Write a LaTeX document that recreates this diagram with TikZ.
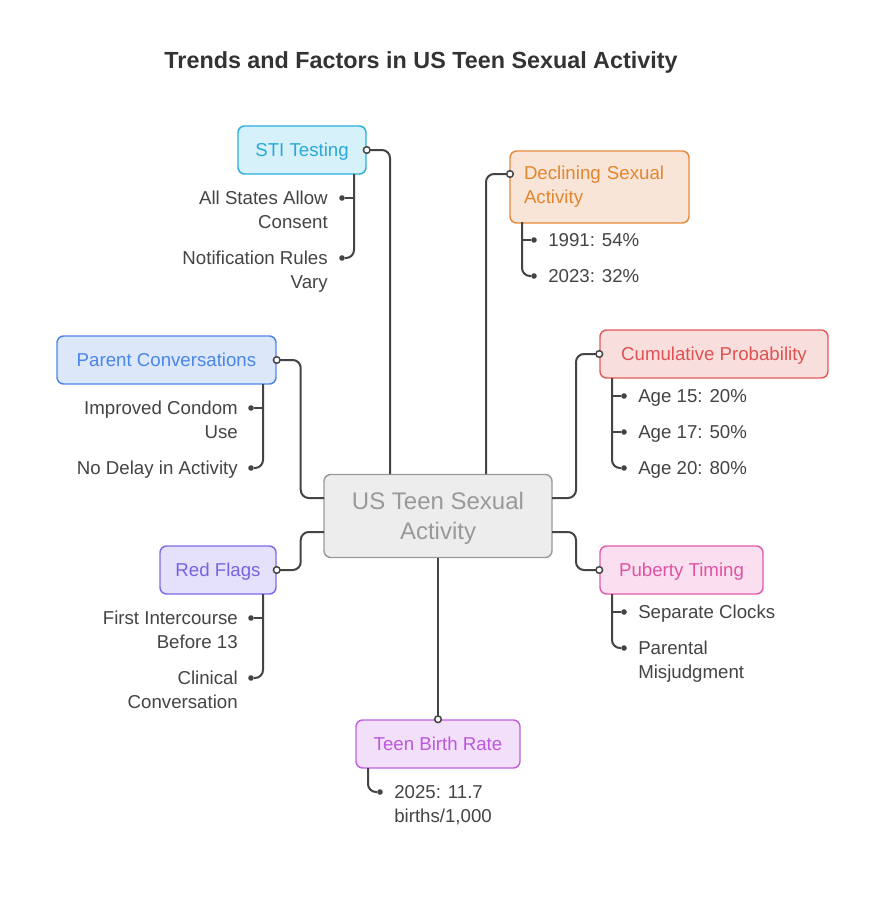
\documentclass[tikz,border=0pt]{standalone}
\usepackage{fontspec}
\setmainfont{Liberation Sans}
\definecolor{stif}{HTML}{D6F1FA}\definecolor{stid}{HTML}{2BB0DE}\definecolor{stit}{HTML}{2AA9D9}
\definecolor{decf}{HTML}{F8E5D8}\definecolor{decd}{HTML}{E68A3C}\definecolor{dect}{HTML}{E2862F}
\definecolor{parf}{HTML}{DCE7F9}\definecolor{pard}{HTML}{4D88E8}\definecolor{part}{HTML}{4A86E8}
\definecolor{cumf}{HTML}{F9DEDE}\definecolor{cumd}{HTML}{E35B5B}\definecolor{cumt}{HTML}{E05252}
\definecolor{redf}{HTML}{E6E1FB}\definecolor{redd}{HTML}{7F6BE8}\definecolor{redt}{HTML}{7963E0}
\definecolor{pubf}{HTML}{F9DFEF}\definecolor{pubd}{HTML}{E45AAE}\definecolor{pubt}{HTML}{E052A3}
\definecolor{teenf}{HTML}{F2DFF9}\definecolor{teend}{HTML}{C261E2}\definecolor{teent}{HTML}{BD58DD}
\definecolor{cfill}{HTML}{EDEDED}\definecolor{cdraw}{HTML}{9A9A9A}\definecolor{ctext}{HTML}{999999}
\definecolor{linec}{HTML}{444444}\definecolor{leafc}{HTML}{444444}\definecolor{titlec}{HTML}{333333}
\begin{document}
\begin{tikzpicture}[x=0.75pt,y=-0.75pt,
  conn/.style={draw=linec, line width=1.5pt, rounded corners=6pt},
  boxbase/.style={draw, line width=1.1pt, rounded corners=5pt, inner sep=0pt, align=center, font=\fontsize{14}{18}\selectfont},
  box/.style={boxbase, text depth=0pt},
  leaf/.style={text=leafc, inner sep=0pt, text depth=0pt, font=\fontsize{14}{18}\selectfont},
  dotn/.style={circle, fill=linec, inner sep=0pt, minimum size=4.2pt},
  ring/.style={circle, draw=linec, fill=white, line width=1.1pt, inner sep=0pt, minimum size=5pt}]
\useasboundingbox[fill=white] (0,0) rectangle (876,906);

\node[text=titlec, font=\fontsize{17.5}{21}\selectfont\bfseries] (title) at (421,62) {Trends and Factors in US Teen Sexual Activity};

% central node
\node[box, fill=cfill, draw=cdraw, text=ctext, minimum width=171pt, minimum height=62.25pt, font=\fontsize{18}{22.5}\selectfont] (core) at (438,516) {US Teen Sexual\\Activity};
\coordinate (ct1) at (390,474);
\coordinate (ct2) at (486,474);
\coordinate (cl1) at (324,498);
\coordinate (cl2) at (324,532);
\coordinate (cr1) at (552,498);
\coordinate (cr2) at (552,532);

% STI Testing
\node[box, fill=stif, draw=stid, text=stit, minimum width=96pt, minimum height=36pt] (sti) at (302,150) {STI Testing};
\draw[conn] (sti.east) -| (ct1);
\coordinate (stib) at (354,174);
\node[dotn] (sti1) at (342,198) {};
\node[dotn] (sti2) at (342,258) {};
\draw[conn] (stib) |- (sti2);
\draw[conn] (stib |- sti1) -- (sti1);
\node[leaf, anchor=east, align=right] (lsti1) at (328,210) {All States Allow\\Consent};
\node[leaf, anchor=east, align=right] (lsti2) at (328,270) {Notification Rules\\Vary};

% Declining Sexual Activity
\node[boxbase, fill=decf, draw=decd, text=dect, minimum width=134.25pt, minimum height=54pt, text width=113.25pt, align=left] (dec) at (599.5,187) {Declining Sexual\\Activity};
\coordinate (decin) at (510,174);
\draw[conn] (decin) -| (ct2);
\coordinate (decb) at (522,222);
\node[dotn] (dec1) at (534,240) {};
\node[dotn] (dec2) at (534,276) {};
\draw[conn] (decb) |- (dec2);
\draw[conn] (decb |- dec1) -- (dec1);
\node[leaf, anchor=west] (ldec1) at (548,240) {1991: 54\%};
\node[leaf, anchor=west] (ldec2) at (548,276) {2023: 32\%};

% Parent Conversations
\node[box, fill=parf, draw=pard, text=part, minimum width=164.25pt, minimum height=36pt] (par) at (166.5,360) {Parent Conversations};
\draw[conn] (par.east) -- ++(24,0) |- (cl1);
\coordinate (parb) at (263,384);
\node[dotn] (par1) at (251,408) {};
\node[dotn] (par2) at (251,468) {};
\draw[conn] (parb) |- (par2);
\draw[conn] (parb |- par1) -- (par1);
\node[leaf, anchor=east, align=right] (lpar1) at (238,420) {Improved Condom\\Use};
\node[leaf, anchor=east, align=right] (lpar2) at (238,468) {No Delay in Activity};

% Cumulative Probability
\node[box, fill=cumf, draw=cumd, text=cumt, minimum width=171pt, minimum height=36pt] (cum) at (714,354) {Cumulative Probability};
\draw[conn] (cr1) -- ++(24,0) |- (cum.west);
\coordinate (cumb) at (612,378);
\node[dotn] (cum1) at (624,396) {};
\node[dotn] (cum2) at (624,432) {};
\node[dotn] (cum3) at (624,468) {};
\draw[conn] (cumb) |- (cum3);
\draw[conn] (cumb |- cum1) -- (cum1);
\draw[conn] (cumb |- cum2) -- (cum2);
\node[leaf, anchor=west] (lcum1) at (638,396) {Age 15: 20\%};
\node[leaf, anchor=west] (lcum2) at (638,432) {Age 17: 50\%};
\node[leaf, anchor=west] (lcum3) at (638,468) {Age 20: 80\%};

% Red Flags
\node[box, fill=redf, draw=redd, text=redt, minimum width=87pt, minimum height=36pt] (red) at (218,570) {Red Flags};
\draw[conn] (red.east) -- ++(24,0) |- (cl2);
\coordinate (redb) at (263,594);
\node[dotn] (red1) at (251,618) {};
\node[dotn] (red2) at (251,678) {};
\draw[conn] (redb) |- (red2);
\draw[conn] (redb |- red1) -- (red1);
\node[leaf, anchor=east, align=right] (lred1) at (238,630) {First Intercourse\\Before 13};
\node[leaf, anchor=east, align=right] (lred2) at (238,690) {Clinical\\Conversation};

% Puberty Timing
\node[box, fill=pubf, draw=pubd, text=pubt, minimum width=122.25pt, minimum height=36pt] (pub) at (681.5,570) {Puberty Timing};
\draw[conn] (cr2) -- ++(24,0) |- (pub.west);
\coordinate (pubb) at (612,594);
\node[dotn] (pub1) at (624,612) {};
\node[dotn] (pub2) at (624,648) {};
\draw[conn] (pubb) |- (pub2);
\draw[conn] (pubb |- pub1) -- (pub1);
\node[leaf, anchor=west] (lpub1) at (638,612) {Separate Clocks};
\node[leaf, anchor=west, align=left] (lpub2) at (638,660) {Parental\\Misjudgment};

% Teen Birth Rate
\node[box, fill=teenf, draw=teend, text=teent, minimum width=123pt, minimum height=36pt] (teen) at (438,744) {Teen Birth Rate};
\draw[conn] (core.south) -- (teen.north);
\coordinate (teenb) at (368,768);
\node[dotn] (teen1) at (380,792) {};
\draw[conn] (teenb) |- (teen1);
\node[leaf, anchor=west, align=left] (lteen1) at (394,804) {2025: 11.7\\births/1,000};

% open rings at box ends
\node[ring] (rsti) at (sti.east) {};
\node[ring] (rdec) at (decin) {};
\node[ring] (rpar) at (par.east) {};
\node[ring] (rcum) at (cum.west) {};
\node[ring] (rred) at (red.east) {};
\node[ring] (rpub) at (pub.west) {};
\node[ring] (rteen) at (teen.north) {};
\end{tikzpicture}
\end{document}
